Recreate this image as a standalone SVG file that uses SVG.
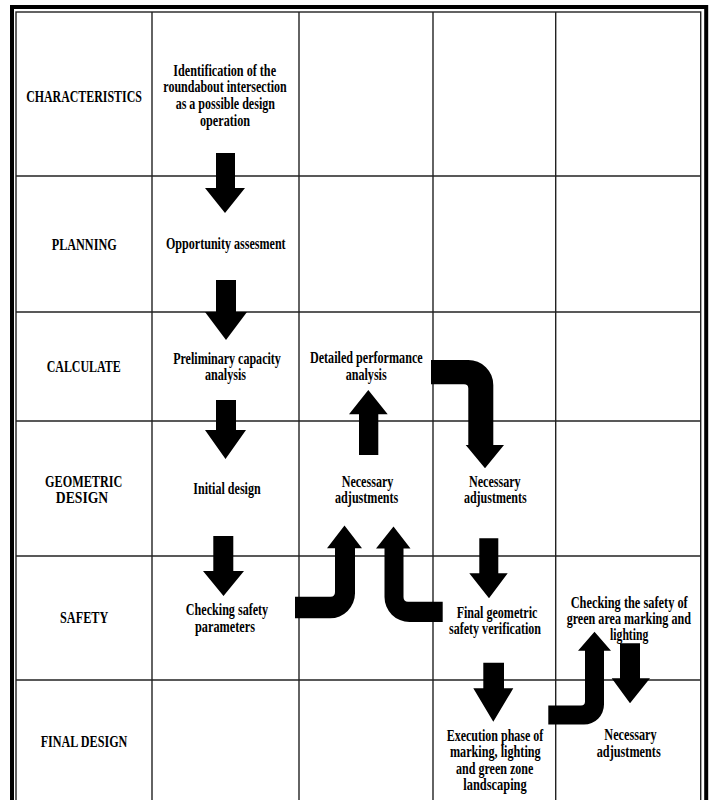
<svg xmlns="http://www.w3.org/2000/svg" width="710" height="800" viewBox="0 0 710 800">
<style>
.t { font-family: "Liberation Serif", "Times New Roman", serif; font-weight: bold; font-size: 17.5px; text-anchor: middle; fill: #000; }
.g { stroke: #222; stroke-width: 1.4; fill: none; }
.a { fill: #000; stroke: none; }
</style>
<rect width="710" height="800" fill="#fff"/>
<g id="frame">
<rect x="12" y="7" width="694.2" height="900" fill="none" stroke="#000" stroke-width="4"/>
<rect x="16" y="12" width="684.7" height="900" class="g"/>
</g>
<g id="grid" class="g">
<line x1="152" y1="12" x2="152" y2="800"/>
<line x1="299" y1="12" x2="299" y2="800"/>
<line x1="433" y1="12" x2="433" y2="800"/>
<line x1="555.7" y1="12" x2="555.7" y2="800"/>
<line x1="16" y1="176" x2="700.7" y2="176"/>
<line x1="16" y1="312" x2="700.7" y2="312"/>
<line x1="16" y1="421" x2="700.7" y2="421"/>
<line x1="16" y1="556" x2="700.7" y2="556"/>
<line x1="16" y1="680" x2="700.7" y2="680"/>
</g>
<g id="row-characteristics"><text class="t" x="84" y="101.7" textLength="115.7" lengthAdjust="spacingAndGlyphs">CHARACTERISTICS</text></g>
<g id="row-planning"><text class="t" x="84.2" y="250" textLength="65" lengthAdjust="spacingAndGlyphs">PLANNING</text></g>
<g id="row-calculate"><text class="t" x="83.7" y="372.3" textLength="74" lengthAdjust="spacingAndGlyphs">CALCULATE</text></g>
<g id="row-geometric">
<text class="t" x="83.7" y="486.7" textLength="77.3" lengthAdjust="spacingAndGlyphs">GEOMETRIC</text>
<text class="t" x="82" y="503.3" textLength="52.3" lengthAdjust="spacingAndGlyphs">DESIGN</text>
</g>
<g id="row-safety"><text class="t" x="84.2" y="623.3" textLength="48.3" lengthAdjust="spacingAndGlyphs">SAFETY</text></g>
<g id="row-final"><text class="t" x="84" y="746.7" textLength="86.7" lengthAdjust="spacingAndGlyphs">FINAL DESIGN</text></g>

<g id="n-identification">
<text class="t" x="224.7" y="75.5" textLength="102.7" lengthAdjust="spacingAndGlyphs">Identification of the</text>
<text class="t" x="225" y="92" textLength="123.3" lengthAdjust="spacingAndGlyphs">roundabout intersection</text>
<text class="t" x="225.3" y="109" textLength="99.3" lengthAdjust="spacingAndGlyphs">as a possible design</text>
<text class="t" x="225" y="125.5" textLength="50" lengthAdjust="spacingAndGlyphs">operation</text>
</g>
<g id="n-opportunity"><text class="t" x="225.8" y="249" textLength="119.7" lengthAdjust="spacingAndGlyphs">Opportunity assesment</text></g>
<g id="n-preliminary">
<text class="t" x="227" y="363.5" textLength="107.7" lengthAdjust="spacingAndGlyphs">Preliminary capacity</text>
<text class="t" x="225.5" y="380" textLength="41" lengthAdjust="spacingAndGlyphs">analysis</text>
</g>
<g id="n-initial"><text class="t" x="227" y="494" textLength="67.3" lengthAdjust="spacingAndGlyphs">Initial design</text></g>
<g id="n-checking">
<text class="t" x="227" y="615" textLength="82.3" lengthAdjust="spacingAndGlyphs">Checking safety</text>
<text class="t" x="225" y="631.5" textLength="60" lengthAdjust="spacingAndGlyphs">parameters</text>
</g>
<g id="n-detailed">
<text class="t" x="366.3" y="363.3" textLength="112.7" lengthAdjust="spacingAndGlyphs">Detailed performance</text>
<text class="t" x="366.2" y="380" textLength="41" lengthAdjust="spacingAndGlyphs">analysis</text>
</g>
<g id="n-adjust1">
<text class="t" x="367.5" y="486.5" textLength="51.7" lengthAdjust="spacingAndGlyphs">Necessary</text>
<text class="t" x="366.7" y="502.5" textLength="63.3" lengthAdjust="spacingAndGlyphs">adjustments</text>
</g>
<g id="n-adjust2">
<text class="t" x="494.8" y="486.5" textLength="51.7" lengthAdjust="spacingAndGlyphs">Necessary</text>
<text class="t" x="495.3" y="502.5" textLength="62.7" lengthAdjust="spacingAndGlyphs">adjustments</text>
</g>
<g id="n-final-geometric">
<text class="t" x="497" y="617.5" textLength="80.7" lengthAdjust="spacingAndGlyphs">Final geometric</text>
<text class="t" x="495" y="633.5" textLength="92" lengthAdjust="spacingAndGlyphs">safety verification</text>
</g>
<g id="n-execution">
<text class="t" x="495" y="740.5" textLength="96.7" lengthAdjust="spacingAndGlyphs">Execution phase of</text>
<text class="t" x="495.3" y="757" textLength="90.7" lengthAdjust="spacingAndGlyphs">marking, lighting</text>
<text class="t" x="494.7" y="773.5" textLength="77.3" lengthAdjust="spacingAndGlyphs">and green zone</text>
<text class="t" x="495" y="790" textLength="63.3" lengthAdjust="spacingAndGlyphs">landscaping</text>
</g>
<g id="n-green-safety">
<text class="t" x="629.2" y="607.5" textLength="117" lengthAdjust="spacingAndGlyphs">Checking the safety of</text>
<text class="t" x="628.8" y="623.5" textLength="124.3" lengthAdjust="spacingAndGlyphs">green area marking and</text>
<text class="t" x="629.2" y="640" textLength="38.3" lengthAdjust="spacingAndGlyphs">lighting</text>
</g>
<g id="n-adjust3">
<text class="t" x="630.5" y="740" textLength="52.3" lengthAdjust="spacingAndGlyphs">Necessary</text>
<text class="t" x="628.7" y="756.5" textLength="64" lengthAdjust="spacingAndGlyphs">adjustments</text>
</g>

<g id="connectors" class="a">
<polygon points="216,153 235,153 235,188 245,188 225,213 205,188 216,188"/>
<polygon points="216,280 236,280 236,312 247,312 226,340 205,312 216,312"/>
<polygon points="216,400 236,400 236,430 246,430 225.5,459 205,430 216,430"/>
<polygon points="213.3,536 233.3,536 233.3,571 244,571 223.5,596 203,571 213.3,571"/>
<polygon points="359,455 378.3,455 378.3,414.3 387.7,414.3 368.3,390 349,414.3 359,414.3"/>
<path d="M431,360 L468,360 A25,25 0 0 1 493.3,385 L493.3,445 L504,445 L485,468.3 L465.7,445 L468.3,445 L468.3,388.5 Q468.3,384.3 464,384.3 L431,384.3 Z"/>
<path d="M295,596.7 L330.5,596.7 Q335,596.7 335,592 L335,548.3 L327,548.3 L344.5,525.5 L362,548.3 L355,548.3 L355,593.3 A25,25 0 0 1 330,618.3 L295,618.3 Z"/>
<path d="M442.7,601.7 L408,601.7 Q403.5,601.7 403.5,597 L403.5,548.5 L410.5,548.5 L393.5,526.5 L376,548.5 L384.5,548.5 L384.5,597 A25,25 0 0 0 409.5,622 L442.7,622 Z"/>
<polygon points="479.3,538.3 498.3,538.3 498.3,573.3 507.7,573.3 489,598.3 469.3,573.3 479.3,573.3"/>
<polygon points="483.3,662.7 504,662.7 504,688.3 513.3,688.3 493.3,721.7 473.3,688.3 483.3,688.3"/>
<path d="M548.3,705.5 L581,705.5 Q585,705.5 585,701.5 L585,650.7 L578,650.7 L594.5,631.7 L611,650.7 L604,650.7 L604,704.5 A20,20 0 0 1 584,724.5 L548.3,724.5 Z"/>
<polygon points="620,643.3 640,643.3 640,678.3 650,678.3 630,703.3 611.7,678.3 620,678.3"/>
</g>
</svg>
